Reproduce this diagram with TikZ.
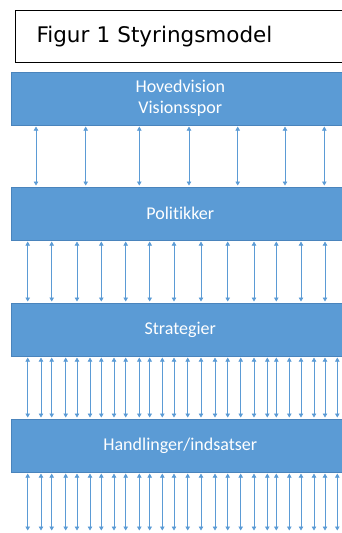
\documentclass[tikz,border=0pt]{standalone}
\usepackage{fontspec}
\usepackage{xcolor}
\usepackage{tikz}
\usetikzlibrary{arrows.meta}
\usetikzlibrary{calc}
\usetikzlibrary{positioning}
\newfontfamily\titlefont{DejaVu Sans}
\newfontfamily\barfont[Ligatures=NoCommon]{Carlito}
\definecolor{barblue}{HTML}{5B9BD5}
\definecolor{barline}{HTML}{4A84BC}
\definecolor{linkblue}{HTML}{5B9BD5}

\begin{document}
\begin{tikzpicture}[x=1pt, y=-1pt,
    level/.style={draw=barline, fill=barblue, anchor=north west,
      minimum width=360pt, minimum height=52.5pt, line width=0.6pt},
    leveltext/.style={text=white, xshift=-11pt, align=center,
      font=\barfont\fontsize{18}{21}\selectfont},
    link/.style={draw=linkblue, line width=0.7pt,
      {Triangle[width=4.5pt,length=4pt]}-{Triangle[width=4.5pt,length=4pt]},
      shorten >=1.5pt, shorten <=1.5pt}]
  \useasboundingbox (0,0) rectangle (342,533);
  \node[draw=black, line width=1pt, anchor=north west, minimum height=52pt,
    text width=330pt, inner xsep=21pt, align=left,
    font=\titlefont\fontsize{21.5}{25}\selectfont] (T) at (15,10) {Figur 1 Styringsmodel};
  \node[level, label={[leveltext]center:Hovedvision\\Visionsspor}] (V) at (11,72) {};
  \node[level, label={[leveltext]center:Politikker}] (P) at (11,187) {};
  \node[level, label={[leveltext]center:Strategier}] (S) at (11,303) {};
  \node[level, label={[leveltext]center:Handlinger/indsatser}] (H) at (11,419) {};
  \coordinate (E) at (11,532);
  \foreach \x in {36,85.7,139.3,189,237.7,285,324.3}
    \draw[link] ([xshift=\x pt-11pt]V.south west) -- ([xshift=\x pt-11pt]P.north west);
  \foreach \x in {27.7,51.7,77,101.3,125.7,149.7,174,201,227.7,254,276.3,301,325}
    \draw[link] ([xshift=\x pt-11pt]P.south west) -- ([xshift=\x pt-11pt]S.north west);
  \foreach \x in {27.7,41,51.7,65.7,77,90,101.3,114,125.7,139.3,149.7,162.3,174,187.7,201,215,227.7,240.7,254,267.3,276.3,289.3,301,314,325,337.3} {
    \draw[link] ([xshift=\x pt-11pt]S.south west) -- ([xshift=\x pt-11pt]H.north west);
    \draw[link] ([xshift=\x pt-11pt]H.south west) -- ([xshift=\x pt-11pt]E);
  }
\end{tikzpicture}
\end{document}
